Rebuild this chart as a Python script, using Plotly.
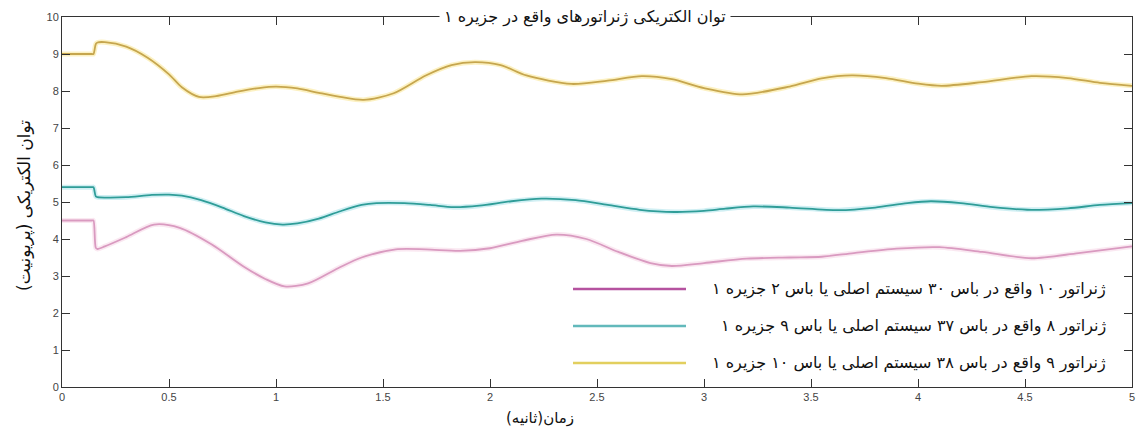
import plotly.graph_objects as go

# ---- data ----
t_gen9 = [0, 0.14, 0.147, 0.158, 0.166, 0.2, 0.3, 0.4, 0.5, 0.56, 0.64, 0.72, 0.82, 0.92, 1.0, 1.1, 1.2, 1.3, 1.41,
          1.55, 1.7, 1.82, 1.93, 2.05, 2.17, 2.38, 2.55, 2.71, 2.85, 3.0, 3.18, 3.4, 3.55, 3.69, 3.85,
          4.0, 4.11, 4.3, 4.53, 4.7, 4.85, 5.0]
p_gen9 = [9.0, 9.0, 9.0, 9.27, 9.31, 9.32, 9.2, 8.9, 8.45, 8.1, 7.84, 7.86, 7.98, 8.08, 8.12, 8.07, 7.95, 7.84, 7.76,
          7.94, 8.42, 8.7, 8.78, 8.7, 8.42, 8.19, 8.28, 8.40, 8.32, 8.08, 7.91, 8.12, 8.34, 8.42, 8.35,
          8.2, 8.14, 8.24, 8.40, 8.35, 8.22, 8.14]

t_gen8 = [0, 0.14, 0.147, 0.158, 0.166, 0.2, 0.3, 0.42, 0.5, 0.56, 0.65, 0.75, 0.85, 0.95, 1.03, 1.1, 1.2, 1.3, 1.4,
          1.47, 1.6, 1.72, 1.83, 1.95, 2.1, 2.24, 2.4, 2.55, 2.7, 2.86, 3.0, 3.1, 3.23, 3.4, 3.63, 3.8,
          3.95, 4.06, 4.2, 4.35, 4.51, 4.7, 4.85, 5.0]
p_gen8 = [5.4, 5.4, 5.4, 5.15, 5.13, 5.12, 5.13, 5.19, 5.2, 5.17, 5.05, 4.85, 4.62, 4.45, 4.39, 4.42, 4.55, 4.75, 4.92,
          4.97, 4.97, 4.92, 4.86, 4.9, 5.02, 5.09, 5.05, 4.92, 4.79, 4.73, 4.76, 4.82, 4.88, 4.85, 4.78, 4.85,
          4.97, 5.02, 4.97, 4.86, 4.79, 4.83, 4.92, 4.97]

t_gen10 = [0, 0.14, 0.147, 0.158, 0.166, 0.2, 0.3, 0.43, 0.55, 0.7, 0.85, 0.95, 1.04, 1.15, 1.29, 1.4, 1.56, 1.7, 1.86,
           2.0, 2.15, 2.31, 2.45, 2.6, 2.75, 2.85, 3.0, 3.2, 3.4, 3.55, 3.7, 3.9, 4.1, 4.3, 4.53, 4.75, 5.0]
p_gen10 = [4.5, 4.5, 4.5, 3.76, 3.73, 3.8, 4.05, 4.39, 4.3, 3.85, 3.25, 2.92, 2.72, 2.8, 3.21, 3.5, 3.72, 3.72, 3.68,
           3.75, 3.95, 4.12, 4.0, 3.65, 3.35, 3.27, 3.35, 3.47, 3.5, 3.52, 3.62, 3.74, 3.78, 3.65, 3.48, 3.62, 3.80]

legend_names = [
    "ژنراتور ۱۰ واقع در باس ۳۰ سیستم اصلی یا باس ۲ جزیره ۱",
    "ژنراتور ۸ واقع در باس ۳۷ سیستم اصلی یا باس ۹ جزیره ۱",
    "ژنراتور ۹ واقع در باس ۳۸ سیستم اصلی یا باس ۱۰ جزیره ۱",
]
x_ticks = [0, 0.5, 1, 1.5, 2, 2.5, 3, 3.5, 4, 4.5, 5]
y_ticks = list(range(0, 11))

title_text = "توان الکتریکی ژنراتورهای واقع در جزیره ۱"
x_title = "زمان(ثانیه)"
y_title = "توان الکتریکی (پریونیت)"

series = [
    (t_gen10, p_gen10, "#d99ac0", "rgba(240,190,215,0.35)", "#b5529f"),
    (t_gen8, p_gen8, "#2f9d98", "rgba(150,220,228,0.45)", "#62b9bb"),
    (t_gen9, p_gen9, "#c6a64e", "rgba(248,225,120,0.45)", "#e2cf5e"),
]

fig = go.Figure()
for tt, pp, core, glow, _ in series:
    fig.add_trace(go.Scatter(x=tt, y=pp, mode="lines", showlegend=False, hoverinfo="skip",
                             line=dict(color=glow, width=5, shape="spline", smoothing=0.8)))
    fig.add_trace(go.Scatter(x=tt, y=pp, mode="lines", showlegend=False,
                             line=dict(color=core, width=1.8, shape="spline", smoothing=0.8)))

W, H = 1137, 428
ml, mr, mt, mb = 62, 5, 17, 41
pw = W - ml - mr
ph = H - mt - mb

def px(xpix):
    return (xpix - ml) / pw

def py(ypix):
    return (H - mb - ypix) / ph

shapes = []
annotations = []
legend_y = [289, 326, 363]
for i, (name, s) in enumerate(zip(legend_names, series)):
    yy = py(legend_y[i])
    shapes.append(dict(type="line", xref="paper", yref="paper", x0=px(573), x1=px(686), y0=yy, y1=yy,
                       line=dict(color=s[4], width=2.5)))
    annotations.append(dict(xref="paper", yref="paper", x=px(1108), y=yy, xanchor="right", yanchor="middle",
                            text=name, showarrow=False,
                            font=dict(family="DejaVu Sans", size=16, color="#111111")))

annotations.append(dict(xref="paper", yref="paper", x=px(585), y=1.0, xanchor="center", yanchor="middle",
                        text=title_text, showarrow=False, bgcolor="white", borderpad=4,
                        font=dict(family="DejaVu Sans", size=16, color="#111111")))
annotations.append(dict(xref="paper", yref="paper", x=px(540), y=py(418), xanchor="center", yanchor="middle",
                        text=x_title, showarrow=False,
                        font=dict(family="DejaVu Sans", size=15, color="#111111")))
annotations.append(dict(xref="paper", yref="paper", x=px(24), y=py(206), xanchor="center", yanchor="middle",
                        text=y_title, showarrow=False, textangle=-90,
                        font=dict(family="DejaVu Sans", size=17, color="#111111")))

axis_common = dict(showgrid=False, zeroline=False, showline=True, linecolor="#333333", linewidth=1,
                   mirror="ticks", ticks="inside", tickcolor="#333333", ticklen=8, tickwidth=1,
                   automargin=False,
                   tickfont=dict(family="Liberation Sans", size=11, color="#444444"))

fig.update_layout(
    width=W, height=H,
    margin=dict(l=ml, r=mr, t=mt, b=mb, autoexpand=False),
    paper_bgcolor="white", plot_bgcolor="white",
    showlegend=False,
    xaxis=dict(range=[0, 5], tickvals=x_ticks, ticktext=[str(v) for v in x_ticks],
               ticklabeloverflow="allow", **axis_common),
    yaxis=dict(range=[0, 10], tickvals=y_ticks, ticktext=[str(v) for v in y_ticks], **axis_common),
    shapes=shapes,
    annotations=annotations,
)

fig.write_html("out.html", config={"displayModeBar": False},
               post_script="document.body.style.margin='0';document.body.style.overflow='hidden';")
